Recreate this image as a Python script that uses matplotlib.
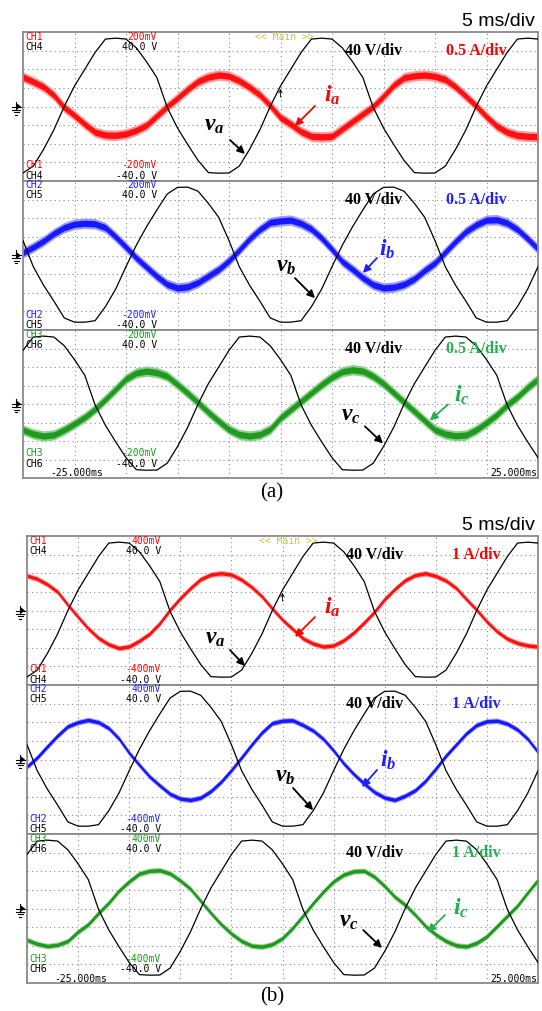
import matplotlib

matplotlib.use("Agg")

import matplotlib.pyplot as plt
import numpy as np

# time axis of the scope, ms (5 ms/div, 10 div)
T_MS = list(range(-25, 26))

# phase voltages, in divisions (40 V/div), read at 1 ms steps
VA = [-3.57, -3.2, -2.3, -1.25, 0.0, 1.1, 2.0, 2.9, 3.62, 3.67, 3.62, 3.15, 2.4,
      1.55, -0.05, -1.15, -2.05, -2.9, -3.55, -3.58, -3.57, -3.2, -2.3, -1.25, 0.0,
      1.1, 2.0, 2.9, 3.62, 3.67, 3.62, 3.15, 2.4, 1.55, -0.05, -1.15, -2.05, -2.9,
      -3.55, -3.58, -3.57, -3.2, -2.3, -1.25, 0.0, 1.1, 2.0, 2.9, 3.62, 3.67, 3.62]
VB = [0.8, -0.6, -1.6, -2.45, -3.35, -3.58, -3.58, -3.5, -2.75, -1.8, -0.6, 0.55,
      1.55, 2.45, 3.3, 3.66, 3.67, 3.45, 2.8, 2.05, 0.8, -0.6, -1.6, -2.45, -3.35,
      -3.58, -3.58, -3.5, -2.75, -1.8, -0.6, 0.55, 1.55, 2.45, 3.3, 3.66, 3.67, 3.45,
      2.8, 2.05, 0.8, -0.6, -1.6, -2.45, -3.35, -3.58, -3.58, -3.5, -2.75, -1.8, -0.6]
VC = [2.9, 3.62, 3.67, 3.62, 3.15, 2.4, 1.55, -0.05, -1.15, -2.05, -2.9, -3.55,
      -3.58, -3.57, -3.2, -2.3, -1.25, 0.0, 1.1, 2.0, 2.9, 3.62, 3.67, 3.62, 3.15,
      2.4, 1.55, -0.05, -1.15, -2.05, -2.9, -3.55, -3.58, -3.57, -3.2, -2.3, -1.25,
      0.0, 1.1, 2.0, 2.9, 3.62, 3.67, 3.62, 3.15, 2.4, 1.55, -0.05, -1.15, -2.05, -2.9]

# phase currents, in divisions; (a) 0.5 A/div, (b) 1 A/div
IA_A = [1.58, 1.33, 1.05, 0.6, -0.05, -0.48, -0.95, -1.38, -1.53, -1.55, -1.47,
        -1.28, -1.0, -0.5, 0.0, 0.45, 0.93, 1.35, 1.58, 1.69, 1.63, 1.38, 1.03, 0.62,
        0.05, -0.6, -0.95, -1.35, -1.6, -1.63, -1.6, -1.2, -0.8, -0.4, 0.0, 0.55,
        1.15, 1.55, 1.65, 1.69, 1.62, 1.45, 1.05, 0.55, 0.03, -0.55, -1.05, -1.38,
        -1.55, -1.6, -1.62]
IB_A = [0.15, 0.45, 0.78, 1.18, 1.5, 1.68, 1.73, 1.7, 1.5, 1.0, 0.45, -0.13, -0.63,
        -1.12, -1.55, -1.74, -1.68, -1.45, -1.1, -0.75, -0.28, 0.3, 0.9, 1.4, 1.78,
        1.86, 1.9, 1.72, 1.42, 0.93, 0.33, -0.33, -0.75, -1.2, -1.57, -1.74, -1.7,
        -1.55, -1.25, -0.8, -0.4, 0.18, 0.76, 1.28, 1.65, 1.9, 1.92, 1.75, 1.4, 0.9, 0.35]
IC_A = [-1.4, -1.62, -1.73, -1.67, -1.4, -1.07, -0.72, -0.27, 0.25, 0.8, 1.36, 1.68,
        1.78, 1.7, 1.5, 1.05, 0.58, 0.07, -0.45, -0.93, -1.38, -1.65, -1.73, -1.65,
        -1.37, -0.75, -0.3, 0.15, 0.6, 1.05, 1.45, 1.75, 1.85, 1.78, 1.5, 1.1, 0.6,
        0.1, -0.4, -0.9, -1.4, -1.62, -1.72, -1.68, -1.4, -1.01, -0.58, -0.05, 0.38,
        0.9, 1.35]
IA_B = [1.87, 1.7, 1.4, 1.0, 0.3, -0.35, -0.97, -1.48, -1.82, -2.02, -1.93, -1.63,
        -1.25, -0.69, 0.03, 0.65, 1.2, 1.68, 1.93, 2.0, 1.93, 1.65, 1.25, 0.75, 0.1,
        -0.5, -1.0, -1.5, -1.78, -1.94, -1.88, -1.6, -1.18, -0.65, -0.08, 0.6, 1.15,
        1.62, 1.9, 2.0, 1.85, 1.6, 1.2, 0.6, 0.03, -0.6, -1.13, -1.52, -1.75, -1.88, -1.94]
IB_B = [-0.39, 0.1, 0.7, 1.28, 1.78, 2.0, 2.12, 2.0, 1.68, 1.12, 0.35, -0.3, -0.92,
        -1.4, -1.85, -2.1, -2.17, -2.05, -1.7, -1.2, -0.58, 0.1, 0.8, 1.45, 1.95, 2.08,
        2.1, 1.85, 1.55, 1.1, 0.48, -0.22, -0.8, -1.3, -1.75, -2.05, -2.17, -1.95,
        -1.65, -1.15, -0.5, 0.2, 0.8, 1.4, 1.85, 2.05, 2.08, 1.92, 1.6, 1.1, 0.4]
IC_B = [-1.69, -1.9, -2.02, -1.95, -1.75, -1.25, -0.85, -0.25, 0.3, 0.95, 1.45, 1.87,
        2.02, 2.05, 1.88, 1.5, 1.05, 0.4, -0.25, -0.85, -1.35, -1.75, -2.0, -2.05,
        -1.92, -1.6, -1.05, -0.4, 0.28, 0.9, 1.45, 1.82, 2.0, 2.02, 1.7, 1.2, 0.62,
        0.2, -0.35, -0.95, -1.4, -1.75, -1.98, -2.04, -1.85, -1.5, -0.95, -0.4, 0.15,
        0.85, 1.53]

# PWM ripple half-width of the current traces, div
RIPPLE = {"a": 0.28, "b": 0.15}

RED, BLUE, GREEN = "#ff1010", "#1818ff", "#1f9a1f"
LIGHT = {RED: "#ff9a9a", BLUE: "#9a9aff", GREEN: "#8fd08f"}
LABEL_GREEN = "#22b04e"

W, H = 542, 1011
plt.rcParams["mathtext.fontset"] = "custom"
plt.rcParams["mathtext.it"] = "Liberation Serif:bold:italic"
plt.rcParams["mathtext.rm"] = "Liberation Serif:bold"

fig = plt.figure(figsize=(W / 100, H / 100), dpi=100)

MONO = dict(family="DejaVu Sans Mono", fontsize=7)


def add_sub(left, top, width, height):
    return fig.add_axes([left / W, 1 - (top + height) / H, width / W, height / H])


def ground(ax, width, height):
    # ground marker left of the frame, drawn in pixel offsets
    fx = lambda px: px / width
    fy = lambda py: 0.5 - py / height
    kw = dict(transform=ax.transAxes, clip_on=False, color="k", lw=0.8)
    ax.plot([fx(-11), fx(-2)], [fy(0), fy(0)], **kw)
    ax.plot([fx(-7), fx(-7)], [fy(-5), fy(3)], **kw)
    for dy, half in [(3, 4), (5.5, 2.5), (8, 1)]:
        ax.plot([fx(-7 - half), fx(-7 + half)], [fy(dy), fy(dy)], **kw)
    ax.fill([fx(-6), fx(-2), fx(-6)], [fy(-3), fy(0), fy(3)], color="k",
            transform=ax.transAxes, clip_on=False, lw=0)


def draw_sub(ax, width, height, volt, cur, color, ripple, chans, scale_txt,
             idx, labels):
    ax.set_xlim(-25, 25)
    ax.set_ylim(-4, 4)
    ax.set_xticks([])
    ax.set_yticks([])
    for s in ax.spines.values():
        s.set_color("#8a8a8a")
        s.set_linewidth(1.3)
    for x in range(-20, 25, 5):
        ax.axvline(x, color="#8c8c8c", lw=0.8, ls=(0, (1, 3)), zorder=1)
    for y in range(-3, 4):
        ax.axhline(y, color="#8c8c8c", lw=0.8, ls=(0, (1, 3)), zorder=1)

    cur = np.array(cur)
    ax.fill_between(T_MS, cur - ripple, cur + ripple, color=LIGHT[color], lw=0, zorder=2)
    ax.fill_between(T_MS, cur - ripple * 0.6, cur + ripple * 0.6, color=color, lw=0,
                    zorder=2)
    ax.plot(T_MS, cur, color=color, lw=1.2, zorder=2)
    ax.plot(T_MS, volt, color="k", lw=0.9, zorder=4)

    # on-screen scope readouts
    fx = lambda px: px / width
    fy = lambda py: 1 - py / height
    ch_i, ch_v, mv = chans
    col_ch = {RED: "#ff0000", BLUE: "#2020ff", GREEN: "#12a012"}[color]
    bottom_shift = 9 if idx == 2 else 0
    rows = [(4.5, ch_i, mv, col_ch), (14.5, ch_v, "40.0 V", "k"),
            (height - 15.5 - bottom_shift, ch_i, "-" + mv, col_ch),
            (height - 5 - bottom_shift, ch_v, "-40.0 V", "k")]
    for py, ch, val, c in rows:
        ax.text(fx(2), fy(py), ch, color=c, ha="left", va="center",
                transform=ax.transAxes, zorder=6, **MONO)
        ax.text(fx(134), fy(py), val, color=c, ha="right", va="center",
                transform=ax.transAxes, zorder=6, **MONO)
    if idx == 0:
        ax.text(fx(232), fy(4.5), "<< Main >>", color="#c8c83c", ha="left",
                va="center", transform=ax.transAxes, zorder=6, **MONO)
        ax.annotate("", xy=(0, 1.1), xytext=(0, 0.35),
                    arrowprops=dict(arrowstyle="->", color="k", lw=0.6,
                                    mutation_scale=6), zorder=6)
    if idx == 2:
        ax.text(fx(27), fy(height - 4.5), "-25.000ms", color="k", ha="left",
                va="center", transform=ax.transAxes, zorder=6, **MONO)
        ax.text(fx(width - 1), fy(height - 4.5), "25.000ms", color="k", ha="right",
                va="center", transform=ax.transAxes, zorder=6, **MONO)

    # per-div annotations
    ax.text(fx(width * 0.68), fy(19), "40 V/div", color="k", ha="center",
            va="center", transform=ax.transAxes, family="Liberation Serif",
            weight="bold", fontsize=11.5, zorder=7)
    lab_col = LABEL_GREEN if color == GREEN else col_ch
    ax.text(fx(width * 0.88), fy(19), scale_txt, color=lab_col, ha="center",
            va="center", transform=ax.transAxes, family="Liberation Serif",
            weight="bold", fontsize=11.5, zorder=7)

    # trace labels with arrows
    for txt, pos, tail, head, c in labels:
        ax.text(pos[0], pos[1], txt, color=c, ha="center", va="center",
                fontsize=17, zorder=7)
        ax.annotate("", xy=head, xytext=tail,
                    arrowprops=dict(arrowstyle="-|>", color=c, lw=1.3,
                                    mutation_scale=11, shrinkA=0, shrinkB=0),
                    zorder=7)
    ground(ax, width, height)


PANELS = [
    dict(key="a", left=23, width=515, tops=[32, 181, 330], heights=[149, 149, 148],
         cur=[IA_A, IB_A, IC_A], mv="200mV", scale="0.5 A/div", title_y=26,
         cap_y=493, cap="(a)",
         labels=[
             [(r"$v_a$", (-6.4, -0.95), (-4.9, -1.8), (-3.45, -2.55), "k"),
              (r"$i_a$", (5.0, 0.62), (3.35, 0.03), (1.4, -1.05), "#ff0000")],
             [(r"$v_b$", (0.5, -0.5), (1.4, -1.21), (3.35, -2.29), "k"),
              (r"$i_b$", (10.4, 0.35), (9.37, -0.13), (8.0, -0.94), "#2020ff")],
             [(r"$v_c$", (6.8, -0.56), (8.2, -1.21), (9.95, -2.13), "k"),
              (r"$i_c$", (17.6, 0.46), (16.26, -0.03), (14.5, -0.89), LABEL_GREEN)],
         ]),
    dict(key="b", left=27, width=511, tops=[536, 685, 834], heights=[149, 149, 149],
         cur=[IA_B, IB_B, IC_B], mv="400mV", scale="1 A/div", title_y=530,
         cap_y=997, cap="(b)",
         labels=[
             [(r"$v_a$", (-6.6, -1.42), (-5.14, -2.12), (-3.67, -2.98), "k"),
              (r"$i_a$", (4.84, 0.19), (3.18, -0.35), (1.22, -1.42), "#ff0000")],
             [(r"$v_b$", (0.24, -0.83), (1.03, -1.53), (3.0, -2.72), "k"),
              (r"$i_b$", (10.3, -0.03), (9.25, -0.56), (7.78, -1.48), "#2020ff")],
             [(r"$v_c$", (6.5, -0.62), (7.9, -1.16), (9.74, -2.12), "k"),
              (r"$i_c$", (17.4, 0.03), (15.9, -0.35), (14.2, -1.26), LABEL_GREEN)],
         ]),
]

VOLTS = [VA, VB, VC]
COLORS = [RED, BLUE, GREEN]
CHANS = [("CH1", "CH4"), ("CH2", "CH5"), ("CH3", "CH6")]

for p in PANELS:
    for k in range(3):
        ax = add_sub(p["left"], p["tops"][k], p["width"], p["heights"][k])
        draw_sub(ax, p["width"], p["heights"][k], VOLTS[k], p["cur"][k], COLORS[k],
                 RIPPLE[p["key"]], (*CHANS[k], p["mv"]), p["scale"], k,
                 p["labels"][k])
    fig.text(535 / W, 1 - p["title_y"] / H, "5 ms/div", ha="right", va="baseline",
             family="Liberation Sans", fontsize=14)
    fig.text(272 / W, 1 - p["cap_y"] / H, p["cap"], ha="center", va="center",
             family="Liberation Serif", fontsize=15)

fig.savefig("out.png", dpi=100)
